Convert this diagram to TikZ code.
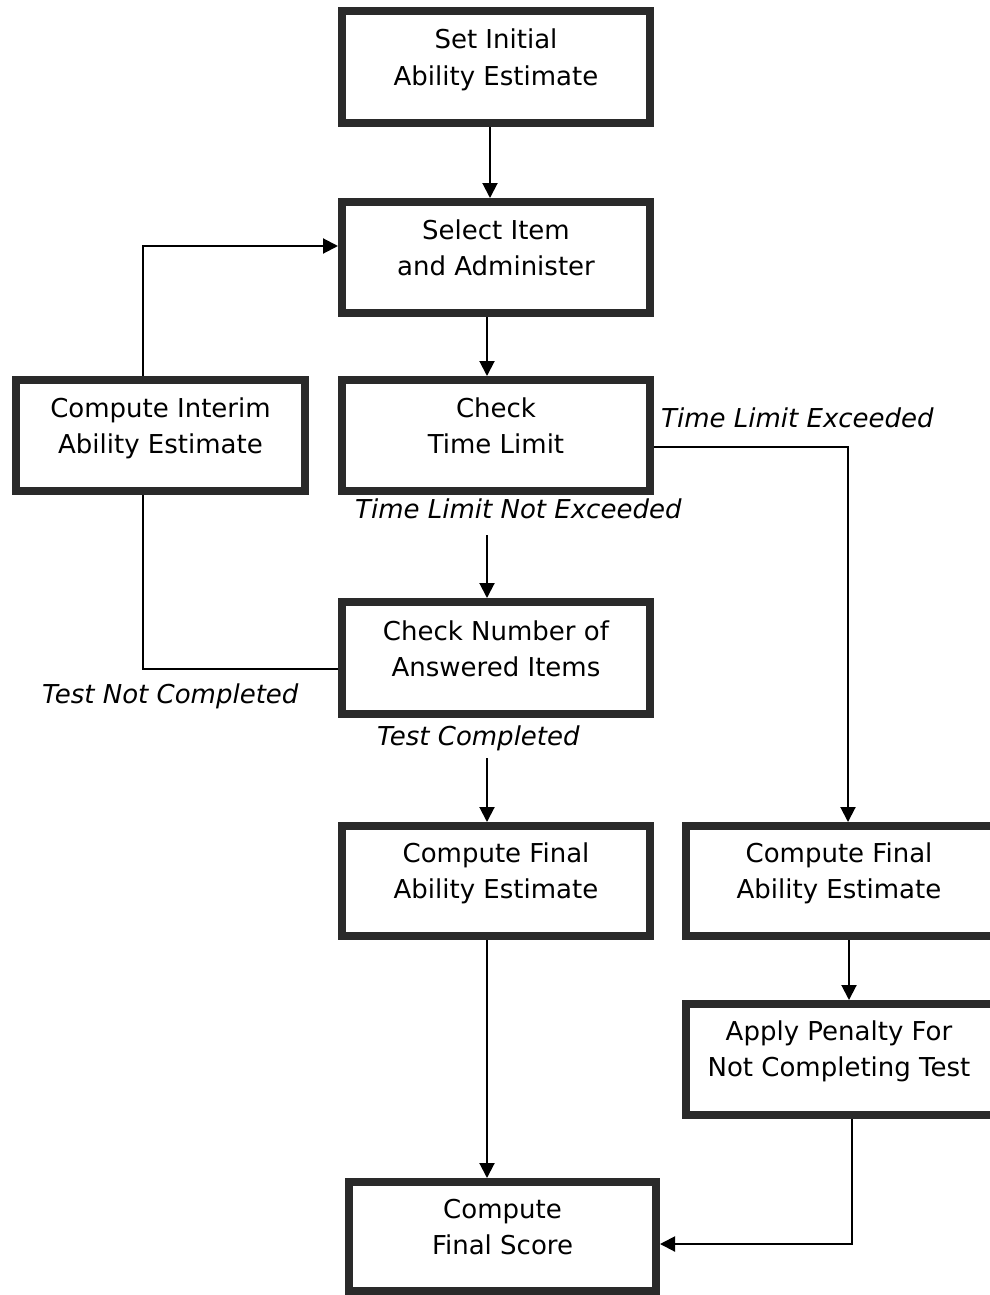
\documentclass[tikz,border=0pt]{standalone}
\usepackage{fontspec}
\setmainfont{DejaVu Sans}
\usetikzlibrary{arrows.meta}
\definecolor{boxgray}{RGB}{42,42,42}
\begin{document}
\begin{tikzpicture}[x=1pt,y=-1pt,
  box/.style={draw=boxgray, line width=8pt, fill=white, inner sep=0pt, rectangle},
  txt/.style={inner sep=0pt, anchor=base, font=\fontsize{26}{36.5}\selectfont},
  lbl/.style={inner sep=0pt, anchor=base west, font=\fontsize{26}{36.5}\selectfont\itshape},
  conn/.style={line width=2pt, draw=black},
  arr/.style={conn, -{Triangle[length=15pt,width=15pt]}}]
\useasboundingbox (0,0) rectangle (989,1295);
\fill[white] (0,0) rectangle (989,1295);

% boxes
\node[box, minimum width=308, minimum height=112] (b1) at (496,67) {};
\node[box, minimum width=308, minimum height=111] (b2) at (496,257.5) {};
\node[box, minimum width=308, minimum height=111] (b3) at (496,435.5) {};
\node[box, minimum width=289, minimum height=111] (b4) at (160.5,435.5) {};
\node[box, minimum width=308, minimum height=112] (b5) at (496,658) {};
\node[box, minimum width=308, minimum height=110] (b6) at (496,881) {};
\node[box, minimum width=315, minimum height=110] (b7) at (843.5,881) {};
\node[box, minimum width=315, minimum height=111] (b8) at (843.5,1059.5) {};
\node[box, minimum width=307, minimum height=109] (b9) at (502.5,1236.5) {};

% box texts
\node[txt] (t1) at ([yshift=-42pt]b1.north) {\begin{tabular}[t]{@{}c@{}}Set Initial\\Ability Estimate\end{tabular}};
\node[txt] (t2) at ([yshift=-41pt]b2.north) {\begin{tabular}[t]{@{}c@{}}Select Item\\and Administer\end{tabular}};
\node[txt] (t3) at ([yshift=-41pt]b3.north) {\begin{tabular}[t]{@{}c@{}}Check\\Time Limit\end{tabular}};
\node[txt] (t4) at ([yshift=-41pt]b4.north) {\begin{tabular}[t]{@{}c@{}}Compute Interim\\Ability Estimate\end{tabular}};
\node[txt] (t5) at ([yshift=-42pt]b5.north) {\begin{tabular}[t]{@{}c@{}}Check Number of\\Answered Items\end{tabular}};
\node[txt] (t6) at ([yshift=-40pt]b6.north) {\begin{tabular}[t]{@{}c@{}}Compute Final\\Ability Estimate\end{tabular}};
\node[txt] (t7) at ([xshift=-4.5pt,yshift=-40pt]b7.north) {\begin{tabular}[t]{@{}c@{}}Compute Final\\Ability Estimate\end{tabular}};
\node[txt] (t8) at ([xshift=-4.5pt,yshift=-40pt]b8.north) {\begin{tabular}[t]{@{}c@{}}Apply Penalty For\\Not Completing Test\end{tabular}};
\node[txt] (t9) at ([yshift=-40pt]b9.north) {\begin{tabular}[t]{@{}c@{}}Compute\\Final Score\end{tabular}};

% edge labels
\node[lbl] (l1) at (661,427) {Time Limit Exceeded};
\node[lbl] (l2) at (355,518) {Time Limit Not Exceeded};
\node[lbl] (l3) at (42,703) {Test Not Completed};
\node[lbl] (l4) at (377,745) {Test Completed};

% free start points below labels
\coordinate (s35) at (487,535);
\coordinate (s56) at (487,758);

% connectors
\draw[arr] ([xshift=-6pt]b1.south) -- ([xshift=-6pt]b2.north);
\draw[arr] ([xshift=-9pt]b2.south) -- ([xshift=-9pt]b3.north);
\draw[arr] ([xshift=-17.5pt]b4.north) |- ([yshift=11.5pt]b2.west);
\draw[arr] ([yshift=-11.5pt]b3.east) -| ([xshift=4.5pt]b7.north);
\draw[arr] (s35) -- (s35 |- b5.north);
\draw[conn] ([yshift=-11pt]b5.west) -| ([xshift=-17.5pt]b4.south);
\draw[arr] (s56) -- (s56 |- b6.north);
\draw[arr] ([xshift=-9pt]b6.south) -- ([xshift=-9pt]b6.south |- b9.north);
\draw[arr] ([xshift=5.5pt]b7.south) -- ([xshift=5.5pt]b8.north);
\draw[arr] ([xshift=8.5pt]b8.south) |- ([yshift=-7.5pt]b9.east);
\end{tikzpicture}
\end{document}
